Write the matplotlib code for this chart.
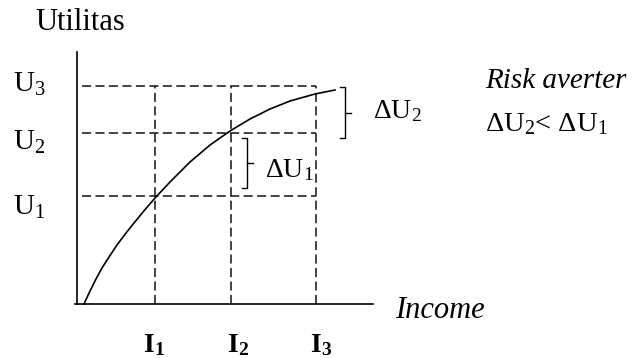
import matplotlib
matplotlib.use('Agg')
import matplotlib.pyplot as plt

plt.rcParams['font.family'] = ['Liberation Serif', 'DejaVu Serif']
plt.rcParams['mathtext.fontset'] = 'custom'
plt.rcParams['mathtext.rm'] = 'Liberation Serif'
plt.rcParams['mathtext.it'] = 'Liberation Serif:italic'
plt.rcParams['mathtext.bf'] = 'Liberation Serif:bold'
plt.rcParams['lines.scale_dashes'] = False

# income levels and utility levels
income_levels = [7.8, 15.4, 23.9]
utility_levels = [10.8, 17.1, 21.8]
income_labels = [r'$\mathbf{I}_\mathbf{1}$', r'$\mathbf{I}_\mathbf{2}$', r'$\mathbf{I}_\mathbf{3}$']
utility_labels = [r'$\mathrm{U}_1$', r'$\mathrm{U}_2$', r'$\mathrm{U}_3$']

# utility curve points
curve_income = [0.7, 1.3, 1.9, 2.5, 3.2, 4.0, 4.9, 5.7, 6.6, 7.8, 9.3, 11.3, 13.3,
                15.3, 17.3, 19.3, 21.3, 23.8, 25.8]
curve_utility = [0.0, 1.3, 2.5, 3.6, 4.7, 5.9, 7.1, 8.1, 9.2, 10.6, 12.2, 14.2, 15.9,
                 17.3, 18.5, 19.5, 20.3, 21.0, 21.4]

fig = plt.figure(figsize=(6.32, 3.58), dpi=100)
ax = fig.add_axes([0, 0, 1, 1])
ax.set_xlim(-7.7, 55.5)
ax.set_ylim(-5.4, 30.4)
ax.axis('off')

# axes
ax.plot([0, 0], [0, 25.2], color='black', lw=1.2)
ax.plot([-0.2, 29.6], [0, 0], color='black', lw=1.2)

# dashed guides
dash = dict(color='#111111', lw=1.1, dashes=(6.5, 3.2))
for u in utility_levels:
    ax.plot([0.5, income_levels[-1]], [u, u], **dash)
for i in income_levels:
    ax.plot([i, i], [0, utility_levels[-1]], **dash)

# utility curve
ax.plot(curve_income, curve_utility, color='black', lw=1.2,
        solid_joinstyle='round')

# brackets
def bracket(x, y0, y1, ym):
    ax.plot([x - 0.5, x, x, x - 0.5], [y1, y1, y0, y0], color='black', lw=1.0)
    ax.plot([x, x + 0.6], [ym, ym], color='black', lw=1.0)

bracket(17.0, 11.6, 16.6, 14.1)
bracket(26.8, 16.6, 21.7, 19.1)

ax.text(18.8, 12.7, r'$\Delta\mathrm{U}_1$', fontsize=20, ha='left', va='baseline')
ax.text(29.6, 18.6, r'$\Delta\mathrm{U}_2$', fontsize=20, ha='left', va='baseline')

# labels
ax.text(-4.2, 28.1, 'Utilitas', fontsize=22, ha='left', va='center')
ax.text(31.8, -0.6, 'Income', fontsize=22, style='italic', ha='left', va='center')

u_base = [8.9, 15.4, 21.2]
for lab, yb in zip(utility_labels, u_base):
    ax.text(-6.4, yb, lab, fontsize=21, ha='left', va='baseline')

i_left = [6.6, 15.0, 23.3]
for lab, xl in zip(income_labels, i_left):
    ax.text(xl, -4.8, lab, fontsize=20, ha='left', va='baseline')

ax.text(40.8, 21.6, 'Risk averter', fontsize=21, style='italic', ha='left', va='baseline')
ax.text(40.8, 17.3, r'$\Delta\mathrm{U}_2$< $\Delta\mathrm{U}_1$', fontsize=20.5,
        ha='left', va='baseline')

fig.savefig('out.png', dpi=100)
